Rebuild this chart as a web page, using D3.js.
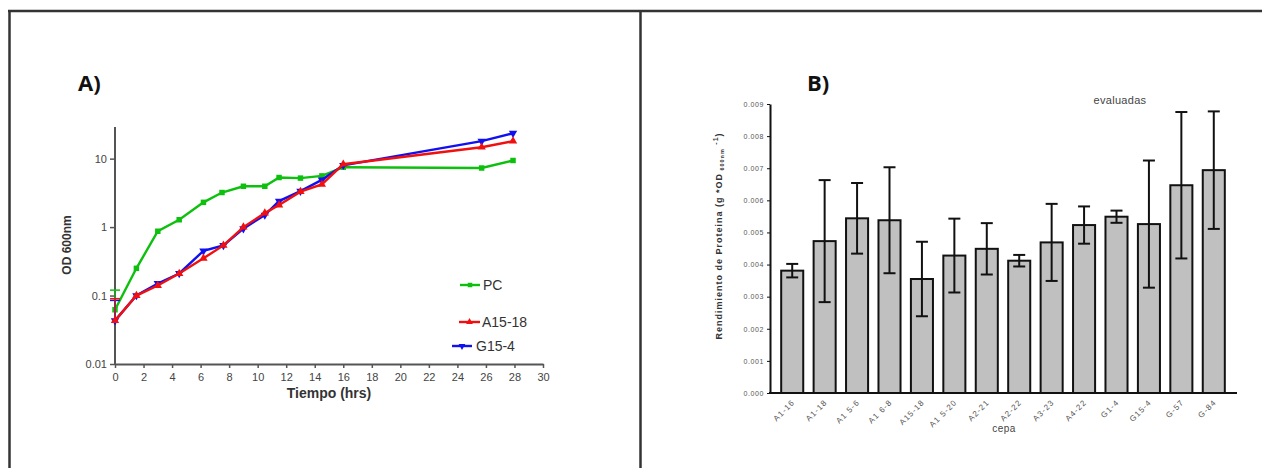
<!DOCTYPE html>
<html><head><meta charset="utf-8">
<script src="https://cdn.jsdelivr.net/npm/d3@7"></script>
<style>body{margin:0;background:#fff}svg{display:block}</style>
</head><body>
<svg id="c" width="1262" height="468"></svg>
<script>
// ---------- Panel A data ----------
const timesPC   = [0, 1.5, 3, 4.5, 6.2, 7.5, 9, 10.5, 11.5, 13, 14.5, 16, 25.7, 27.9];
const valuesPC  = [0.062, 0.25, 0.87, 1.28, 2.3, 3.2, 3.95, 3.95, 5.3, 5.2, 5.6, 7.5, 7.3, 9.4];
const timesA    = [0, 1.5, 3, 4.5, 6.2, 7.6, 9, 10.5, 11.5, 13, 14.5, 16, 25.7, 27.9];
const valuesA   = [0.043, 0.1, 0.14, 0.21, 0.35, 0.54, 1.0, 1.6, 2.1, 3.3, 4.2, 8.3, 14.7, 18];
const timesG    = [0, 1.5, 3, 4.5, 6.2, 7.6, 9, 10.5, 11.5, 13, 14.5, 16, 25.7, 27.9];
const valuesG   = [0.043, 0.1, 0.15, 0.21, 0.45, 0.54, 0.95, 1.5, 2.4, 3.35, 4.9, 8.0, 18, 23.5];
const errUpperT0 = [0.12, 0.09, 0.085]; // PC, A15-18, G15-4 at t=0
const seriesNames = ["PC", "A15-18", "G15-4"];
const xTicksA = d3.range(0, 31, 2);
const yTicksA = [0.01, 0.1, 1, 10];
const yTickLabelsA = ["0.01", "0.1", "1", "10"];

// ---------- Panel B data ----------
const cepas = ["A1-16","A1-18","A1 5-6","A1 6-8","A15-18","A1 5-20","A2-21","A2-22","A3-23","A4-22","G1-4","G15-4","G-57","G-84"];
const rendimiento = [0.00381, 0.00473, 0.00544, 0.00538, 0.00355, 0.00428, 0.00449, 0.00412, 0.00469, 0.00523, 0.00549, 0.00526, 0.00647, 0.00694];
const errores     = [0.00021, 0.00190, 0.00110, 0.00165, 0.00116, 0.00115, 0.00080, 0.00018, 0.00120, 0.00058, 0.00019, 0.00198, 0.00228, 0.00183];
const yTicksB = d3.range(0, 0.0091, 0.001);

const svg = d3.select("#c");
const F = "'Liberation Sans', Arial, sans-serif";

// frame
svg.append("line").attr("x1",8).attr("x2",1262).attr("y1",11).attr("y2",11).attr("stroke","#333").attr("stroke-width",2.5);
svg.append("line").attr("x1",9.5).attr("x2",9.5).attr("y1",10).attr("y2",468).attr("stroke","#333").attr("stroke-width",2.5);
svg.append("line").attr("x1",640.5).attr("x2",640.5).attr("y1",10).attr("y2",468).attr("stroke","#333").attr("stroke-width",2.5);

// ---------- Panel A ----------
const xA = d3.scaleLinear().domain([0,30]).range([115,543]);
const yA = d3.scaleLog().domain([0.01,29]).range([364,127]);
const gA = svg.append("g");

svg.append("text").attr("x",78).attr("y",91).attr("font-family","'Open Sans', "+F).attr("font-weight","bold").attr("font-size",22).attr("fill","#111").text("A)");

const axXA = gA.append("g").attr("transform","translate(0,364)")
  .call(d3.axisBottom(xA).tickValues(xTicksA).tickSize(4).tickSizeOuter(0));
const axYA = gA.append("g").attr("transform","translate(115,0)")
  .call(d3.axisLeft(yA).tickValues(yTicksA).tickFormat((d,i)=>yTickLabelsA[i]).tickSize(5).tickSizeOuter(0));
[axXA, axYA].forEach(a=>{
  a.select(".domain").attr("stroke","#555").attr("stroke-width",2);
  a.selectAll(".tick line").attr("stroke","#555").attr("stroke-width",1.5);
  a.selectAll("text").attr("font-family",F).attr("font-size",11).attr("fill","#444");
});
axXA.selectAll("text").attr("dy","0.9em");
axYA.select(".domain").attr("d","M0,127V364");

gA.append("text").attr("x",329).attr("y",398).attr("text-anchor","middle").attr("font-family",F)
  .attr("font-weight","bold").attr("font-size",14).attr("fill","#333").text("Tiempo (hrs)");
gA.append("text").attr("transform","translate(71,245) rotate(-90)").attr("text-anchor","middle").attr("font-family",F)
  .attr("font-weight","bold").attr("font-size",12).attr("fill","#333").text("OD 600nm");

const seriesA = [
  {t: timesPC, v: valuesPC, c: "#0ec00e", sym: d3.symbolSquare, rot: 0, size: 30},
  {t: timesA,  v: valuesA,  c: "#f01010", sym: d3.symbolTriangle, rot: 0, size: 30},
  {t: timesG,  v: valuesG,  c: "#1010f0", sym: d3.symbolTriangle, rot: 180, size: 30}
];
const order = [0, 2, 1];
const line = d3.line().x(d=>xA(d[0])).y(d=>yA(d[1]));
order.forEach(i=>{
  const s = seriesA[i];
  const pts = s.t.map((t,j)=>[t, s.v[j]]);
  gA.append("line").attr("x1",xA(0)).attr("x2",xA(0)).attr("y1",yA(s.v[0])).attr("y2",yA(errUpperT0[i])).attr("stroke",s.c).attr("stroke-width",1.2);
  gA.append("line").attr("x1",xA(0)-5).attr("x2",xA(0)+5).attr("y1",yA(errUpperT0[i])).attr("y2",yA(errUpperT0[i])).attr("stroke",s.c).attr("stroke-width",1.5);
  gA.append("path").datum(pts).attr("d",line).attr("fill","none").attr("stroke",s.c).attr("stroke-width",2.4);
  gA.selectAll(null).data(pts).join("path")
    .attr("d", d3.symbol().type(s.sym).size(s.size))
    .attr("transform", d=>`translate(${xA(d[0])},${yA(d[1])}) rotate(${s.rot})`)
    .attr("fill", s.c);
});

const legA = [
  {name: seriesNames[0], x1: 460, x2: 480, tx: 483, y: 285, s: seriesA[0]},
  {name: seriesNames[1], x1: 459, x2: 480, tx: 482, y: 322, s: seriesA[1]},
  {name: seriesNames[2], x1: 452, x2: 472, tx: 476, y: 346, s: seriesA[2]}
];
legA.forEach(l=>{
  gA.append("line").attr("x1",l.x1).attr("x2",l.x2).attr("y1",l.y).attr("y2",l.y).attr("stroke",l.s.c).attr("stroke-width",2.4);
  gA.append("path").attr("d", d3.symbol().type(l.s.sym).size(20)).attr("transform",`translate(${(l.x1+l.x2)/2},${l.y}) rotate(${l.s.rot})`).attr("fill",l.s.c);
  gA.append("text").attr("x",l.tx).attr("y",l.y+5).attr("font-family",F).attr("font-size",14).attr("fill","#333").text(l.name);
});

// ---------- Panel B ----------
const gB = svg.append("g");
svg.append("text").attr("x",807).attr("y",91).attr("font-family","'Open Sans', "+F).attr("font-weight","bold").attr("font-size",22).attr("fill","#111").text("B)");

const xB = d3.scaleBand().domain(cepas).range([776,1230]).paddingInner(0.32).paddingOuter(0.16);
const yB = d3.scaleLinear().domain([0,0.009]).range([393,104]);

const axYB = gB.append("g").attr("transform","translate(770,0)")
  .call(d3.axisLeft(yB).tickValues(yTicksB).tickFormat(d3.format(".3f")).tickSize(3).tickSizeOuter(0));
axYB.select(".domain").attr("stroke","#111").attr("stroke-width",2);
axYB.selectAll(".tick line").attr("stroke","#111").attr("stroke-width",1);
axYB.selectAll("text").attr("font-family",F).attr("font-size",7).attr("letter-spacing",0.6).attr("fill","#555").attr("x",-6);

gB.append("line").attr("x1",769).attr("x2",1237).attr("y1",393).attr("y2",393).attr("stroke","#111").attr("stroke-width",2);

gB.selectAll("rect.bar").data(cepas).join("rect").attr("class","bar")
  .attr("x", d=>xB(d)).attr("width", xB.bandwidth())
  .attr("y", (d,i)=>yB(rendimiento[i])).attr("height",(d,i)=>393-yB(rendimiento[i]))
  .attr("fill","#c0c0c0").attr("stroke","#111").attr("stroke-width",2);

cepas.forEach((c,i)=>{
  const cx = xB(c)+xB.bandwidth()/2;
  const hi = yB(rendimiento[i]+errores[i]), lo = yB(rendimiento[i]-errores[i]);
  gB.append("line").attr("x1",cx).attr("x2",cx).attr("y1",hi).attr("y2",lo).attr("stroke","#111").attr("stroke-width",2);
  [hi,lo].forEach(y=>gB.append("line").attr("x1",cx-6).attr("x2",cx+6).attr("y1",y).attr("y2",y).attr("stroke","#111").attr("stroke-width",2));
  gB.append("text").attr("transform",`translate(${cx+3},${403}) rotate(-45)`).attr("text-anchor","end")
    .attr("font-family",F).attr("font-size",8).attr("letter-spacing",1).attr("fill","#555").text(c);
});

gB.append("text").attr("x",1004).attr("y",432).attr("text-anchor","middle").attr("font-family",F).attr("font-size",10).attr("letter-spacing",0.5).attr("fill","#444").text("cepa");
gB.append("text").attr("x",1120).attr("y",104).attr("text-anchor","middle").attr("font-family",F).attr("font-size",11).attr("letter-spacing",0.3).attr("fill","#444").text("evaluadas");

const yl = gB.append("text").attr("transform","translate(722,236) rotate(-90)").attr("text-anchor","middle")
  .attr("font-family",F).attr("font-weight","bold").attr("font-size",9).attr("letter-spacing",1).attr("fill","#333");
yl.append("tspan").text("Rendimiento de Proteina (g *OD");
yl.append("tspan").attr("font-size",5.5).attr("dy",1.5).text(" 600nm");
yl.append("tspan").attr("font-size",9).attr("dy",-1.5).text(" ");
yl.append("tspan").attr("font-size",7).attr("dy",-4).text("-1");
yl.append("tspan").attr("font-size",9).attr("dy",4).text(")");
</script>
</body></html>
